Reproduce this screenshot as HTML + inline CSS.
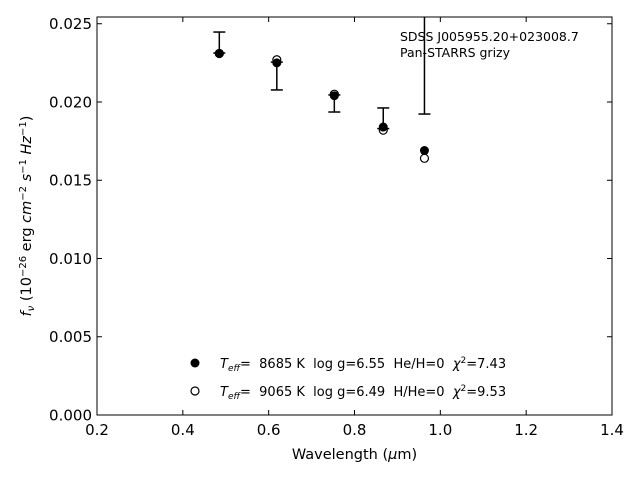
<!DOCTYPE html>
<html><head><meta charset="utf-8"><style>
body{margin:0;background:#fff}
svg{font-family:"DejaVu Sans","Liberation Sans",sans-serif}
text{white-space:pre}
</style></head><body>
<svg id="chart" width="640" height="480" viewBox="0 0 640 480" xmlns="http://www.w3.org/2000/svg" xml:space="preserve">
<rect width="640" height="480" fill="#fff"/>
<g id="plot"></g>
<rect x="97" y="17" width="515" height="398" fill="none" stroke="#000" stroke-width="1"/>
<text x="354.5" y="459" font-size="14.5" text-anchor="middle">Wavelength (<tspan font-style="italic">μ</tspan>m)</text>
<text transform="translate(31,216) rotate(-90)" font-size="14.5" text-anchor="middle"><tspan font-style="italic">f</tspan><tspan font-style="italic" font-size="10" dy="3">ν</tspan><tspan dy="-3"> (10</tspan><tspan font-size="10" dy="-5">−26</tspan><tspan dy="5"> erg </tspan><tspan font-style="italic">cm</tspan><tspan font-size="10" dy="-5">−2</tspan><tspan dy="5" font-style="italic"> s</tspan><tspan font-size="10" dy="-5">−1</tspan><tspan dy="5" font-style="italic"> Hz</tspan><tspan font-size="10" dy="-5">−1</tspan><tspan dy="5">)</tspan></text>
<text x="400" y="41" font-size="12.5">SDSS J005955.20+023008.7</text>
<text x="400" y="57" font-size="12.5">Pan-STARRS grizy</text>
<g>
<circle cx="195" cy="363" r="4.5" fill="#000"/>
<text x="220" y="368" font-size="13"><tspan font-style="italic">T</tspan><tspan font-style="italic" font-size="9" dy="3">eff</tspan><tspan dy="-3">=  8685 K  log g=6.55  He/H=0  </tspan><tspan font-style="italic">χ</tspan><tspan font-size="9" dy="-5">2</tspan><tspan dy="5">=7.43</tspan></text>
<circle cx="195" cy="391" r="4" fill="#fff" stroke="#000" stroke-width="1.2"/>
<text x="220" y="396" font-size="13"><tspan font-style="italic">T</tspan><tspan font-style="italic" font-size="9" dy="3">eff</tspan><tspan dy="-3">=  9065 K  log g=6.49  H/He=0  </tspan><tspan font-style="italic">χ</tspan><tspan font-size="9" dy="-5">2</tspan><tspan dy="5">=9.53</tspan></text>
</g>
</svg>
<script>
const wavelengths=[0.485,0.619,0.753,0.867,0.963];
const model1Flux=[0.0231,0.0225,0.0204,0.0184,0.0169];
const model2Flux=[0.0231,0.0227,0.0205,0.0182,0.0164];
const obsLower=[0.02313,0.02077,0.01936,0.0183,0.01923];
const obsUpper=[0.02447,0.02255,0.02045,0.01962,0.03];
const xTicks=[0.2,0.4,0.6,0.8,1.0,1.2,1.4];
const xTickLabels=["0.2","0.4","0.6","0.8","1.0","1.2","1.4"];
const yTicks=[0,0.005,0.01,0.015,0.02,0.025];
const yTickLabels=["0.000","0.005","0.010","0.015","0.020","0.025"];

const X0=97,X1=612,Y0=415,Y1=17;
const xmin=0.2,xmax=1.4,ymin=0,ymax=0.025431;
const sx=v=>X0+(v-xmin)/(xmax-xmin)*(X1-X0);
const sy=v=>Math.max(Y1,Y0-(v-ymin)/(ymax-ymin)*(Y0-Y1));
const NS="http://www.w3.org/2000/svg";
const g=document.getElementById('plot');
function mk(t,a){const e=document.createElementNS(NS,t);for(const k in a)e.setAttribute(k,a[k]);g.appendChild(e);return e;}

xTicks.forEach((v,i)=>{
  const x=sx(v);
  let t=mk('line',{x1:x,x2:x,y1:Y0,y2:Y0-5,stroke:'#000'});
  
  
  t=mk('line',{x1:x,x2:x,y1:Y1,y2:Y1+5,stroke:'#000'});
  
  
  const l=mk('text',{x:x,y:Y0+20,'font-size':15,'text-anchor':'middle'});
  l.textContent=xTickLabels[i];
  
  
});
yTicks.forEach((v,i)=>{
  const y=sy(v);
  let t=mk('line',{x1:X0,x2:X0+5,y1:y,y2:y,stroke:'#000'});
  
  
  t=mk('line',{x1:X1,x2:X1-5,y1:y,y2:y,stroke:'#000'});
  
  
  const l=mk('text',{x:X0-5,y:y+5.5,'font-size':15,'text-anchor':'end'});
  l.textContent=yTickLabels[i];
  
  
});
wavelengths.forEach((w,i)=>{
  const x=sx(w),yl=sy(obsLower[i]),yu=sy(obsUpper[i]);
  const e=mk('line',{x1:x,x2:x,y1:yl,y2:yu,stroke:'#000','stroke-width':1.5});
  
  
  const c1=mk('line',{x1:x-6,x2:x+6,y1:yl,y2:yl,stroke:'#000','stroke-width':1.5});
  
  
  if(obsUpper[i]<ymax){
    const c2=mk('line',{x1:x-6,x2:x+6,y1:yu,y2:yu,stroke:'#000','stroke-width':1.5});
    
    
  }
});
wavelengths.forEach((w,i)=>{
  const o=mk('circle',{cx:sx(w),cy:sy(model2Flux[i]),r:4,fill:'#fff',stroke:'#000','stroke-width':1.2});
  
  
  const f=mk('circle',{cx:sx(w),cy:sy(model1Flux[i]),r:4.5,fill:'#000'});
  
  
});
</script>
</body></html>
